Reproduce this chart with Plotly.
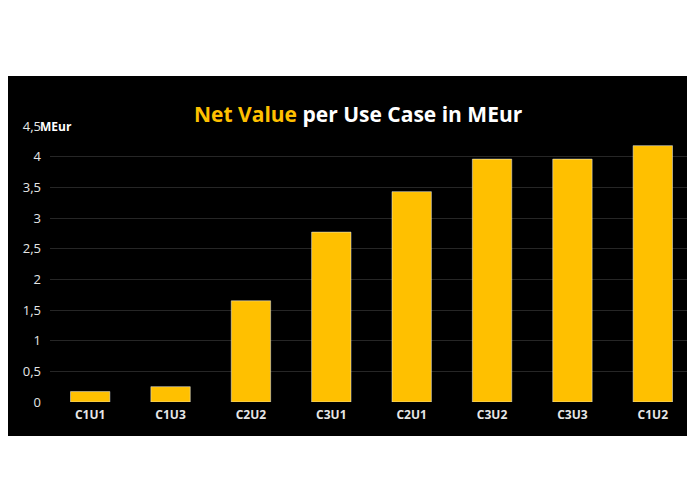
import plotly.graph_objects as go

use_cases = ["C1U1", "C1U3", "C2U2", "C3U1", "C2U1", "C3U2", "C3U3", "C1U2"]
net_value = [0.17, 0.25, 1.65, 2.77, 3.43, 3.96, 3.96, 4.18]
tick_vals = [0, 0.5, 1, 1.5, 2, 2.5, 3, 3.5, 4, 4.5]

fig = go.Figure(go.Bar(x=use_cases, y=net_value, marker_color="#FFC000", width=0.49))

fig.update_layout(
    width=695, height=494,
    margin=dict(l=42, r=10, t=118, b=100, autoexpand=False),
    paper_bgcolor="white", plot_bgcolor="black",
    separators=",.",
    font=dict(family="Open Sans", color="#e6e6e6", size=12),
    showlegend=False,
    bargap=0.5,
    yaxis=dict(range=[0, 4.5], tickvals=tick_vals, gridcolor="#262626",
               zeroline=False, ticks="", ticklabelstandoff=8, automargin=False,
               tickfont=dict(size=13)),
    xaxis=dict(showgrid=False, ticks="", ticklabelstandoff=4, automargin=False,
               tickfont=dict(size=12, weight="bold")),
    shapes=[dict(type="rect", xref="paper", yref="paper", x0=-0.5, x1=1.5,
                 y0=-0.123, y1=1.181, fillcolor="black", line_width=0, layer="below")],
    annotations=[
        dict(text="<b><span style='color:#FFC000'>Net Value</span> per Use Case in MEur</b>",
             xref="paper", yref="paper", x=0.48, y=1.10, showarrow=False,
             font=dict(size=21, color="white", family="Open Sans")),
        dict(text="<b>MEur</b>", xref="paper", yref="y", x=-0.018, y=4.5,
             xanchor="left", showarrow=False, font=dict(size=12, color="white")),
    ],
)

fig.write_html("out.html")
